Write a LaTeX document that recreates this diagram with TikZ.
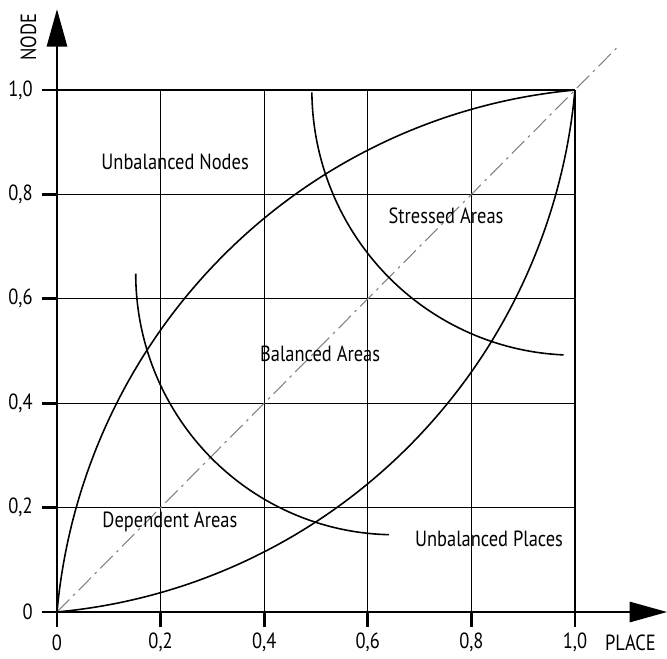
\documentclass[tikz,border=0pt]{standalone}
\usepackage{fontspec}
\setmainfont{PT Sans}[FakeStretch=0.84]
\usetikzlibrary{arrows.meta}

\begin{document}
\begin{tikzpicture}[x=10.36cm, y=10.44cm, font=\fontsize{12.5}{14}\selectfont,
                    axis/.style={line width=1.6pt, -{Triangle[length=0.75cm, width=0.4cm]}},
                    gridline/.style={line width=0.75pt},
                    curve/.style={line width=0.9pt},
                    diag/.style={gray, line width=0.6pt, dash pattern=on 10pt off 3pt on 1.5pt off 3pt},
                    area/.style={inner sep=1pt}]
    \useasboundingbox (-0.110,-0.0881) rectangle (1.1776,1.1724);
    % grid with ticks
    \foreach \v/\t in {0.2/{0,2}, 0.4/{0,4}, 0.6/{0,6}, 0.8/{0,8}, 1/{1,0}} {
      \draw[gridline] (\v,-0.028) -- (\v,1);
      \draw[gridline] (-0.028,\v) -- (1,\v);
      \draw[line width=1.6pt] (\v,-0.028) -- (\v,0);
      \draw[line width=1.6pt] (-0.028,\v) -- (0,\v);
      \node[anchor=east] (ylbl\v) at (-0.035,\v) {\t};
      \node (xlbl\v) at (\v,-0.059) {\t};
    }
    \node[anchor=east] (ylbl0) at (-0.035,0) {0};
    \node (xlbl0) at (0,-0.059) {0};
    % axes
    \coordinate (O) at (0,0);
    \coordinate (xend) at (1.178,0);
    \coordinate (yend) at (0,1.155);
    \draw[axis] (-0.028,0) -- (xend);
    \draw[axis] (0,-0.028) -- (yend);
    \node (place) at (1.107,-0.059) {PLACE};
    \node[rotate=90] (nodelbl) at (-0.055,1.101) {NODE};
    % diagonal
    \coordinate (dend) at (1.08,1.08);
    \draw[diag] (O) -- (dend);
    % curves
    \draw[curve] plot[domain=174.8:95.2, samples=80, smooth]
      ({1.1+1.1045*cos(\x)}, {-0.1+1.1045*sin(\x)});
    \draw[curve] plot[domain=-84.8:-5.2, samples=80, smooth]
      ({-0.1+1.1045*cos(\x)}, {1.1+1.1045*sin(\x)});
    \draw[curve] plot[domain=180.5:267.5, samples=60, smooth]
      ({1+0.508*cos(\x)}, {1+0.508*sin(\x)});
    \draw[curve] plot[domain=180:268.7, samples=60, smooth]
      ({0.652+0.5*cos(\x)}, {0.648+0.5*sin(\x)});
    % areas
    \node[area] (unbnodes) at (0.228,0.862) {Unbalanced Nodes};
    \node[area] (stressed) at (0.751,0.759) {Stressed Areas};
    \node[area] (balanced) at (0.508,0.494) {Balanced Areas};
    \node[area] (dependent) at (0.218,0.172) {Dependent Areas};
    \node[area] (unbplaces) at (0.834,0.140) {Unbalanced Places};
\end{tikzpicture}
\end{document}
